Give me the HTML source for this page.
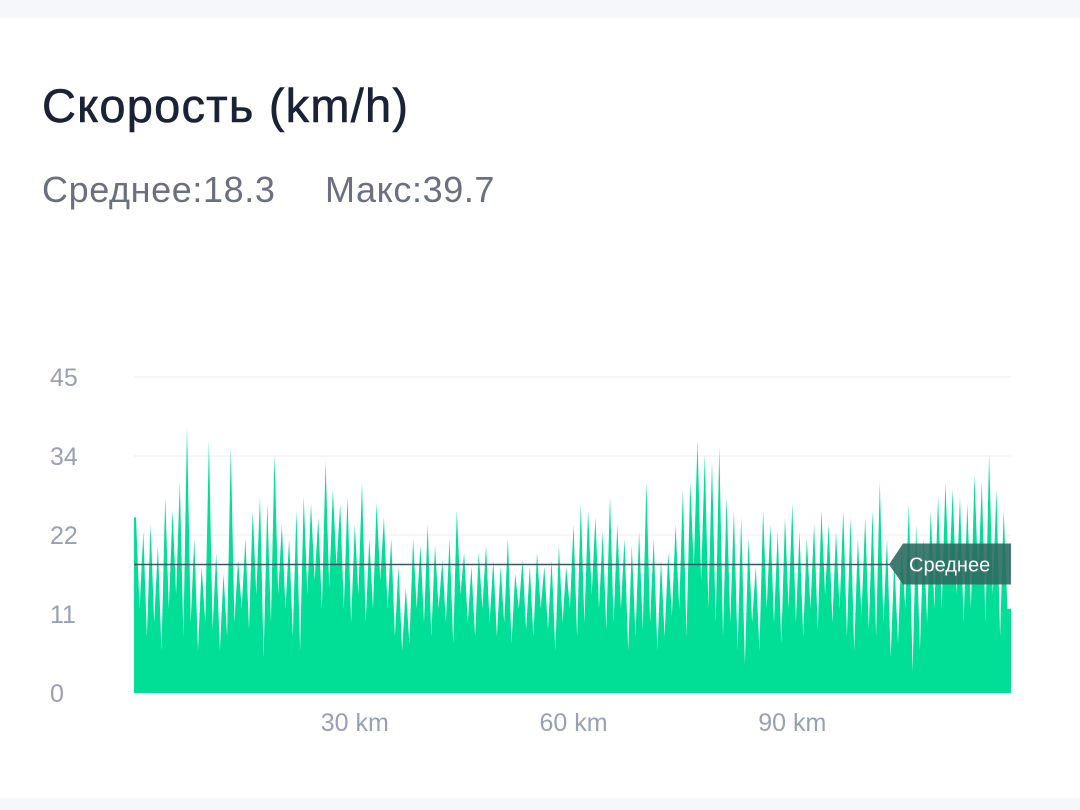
<!DOCTYPE html>
<html><head><meta charset="utf-8">
<style>
html,body{margin:0;padding:0;background:#f6f7fb;}
#card{position:absolute;left:0;top:18px;width:1080px;height:780px;background:#fff;}
.t{position:absolute;font-family:"Liberation Sans","Noto Sans CJK SC",sans-serif;white-space:nowrap;}
</style></head><body>
<div id="card">
<div class="t" style="left:42px;top:60px;font-size:47px;letter-spacing:1.2px;color:#1b2236;-webkit-text-stroke:0.6px #1b2236;">Скорость (km/h)</div>
<div class="t" style="left:42px;top:151px;font-size:36px;letter-spacing:0.6px;color:#6b7080;">Среднее:18.3</div>
<div class="t" style="left:325px;top:151px;font-size:36px;letter-spacing:0.6px;color:#6b7080;">Макс:39.7</div>
</div>
<svg id="chart" width="1080" height="810" style="position:absolute;left:0;top:0"></svg>
<script>
const yTicks=[45,33.75,22.5,11.25,0];
const yTickLabels=["45","34","22","11","0"];
const xTicks=[30,60,90];
const xTickLabels=["30 km","60 km","90 km"];
const avgSpeed=18.3;
const hiSpeed=[25,23,24,21,28,26,30,38,22,18,36,20,17,35,19,22,26,28,27,34,24,22,26,28,27,25,33,29,27,28,24,30,22,27,25,22,18,15,22,21,24,21,19,22,26,20,18,20,21,19,18,22,17,19,18,20,18,19,21,18,24,27,26,25,23,28,24,22,21,23,30,22,19,20,24,29,30,36,34,33,35,28,26,25,22,18,26,24,23,25,27,23,22,24,26,24,23,26,25,22,25,26,30,22,19,21,27,24,22,26,28,30,29,28,27,31,30,34,29,26];
const loSpeed=[12,8,10,6,12,14,8,10,6,10,9,6,8,10,12,9,14,5,10,14,12,8,6,14,16,12,15,18,12,10,14,10,12,16,12,8,6,7,12,10,8,12,10,7,14,10,8,12,10,8,10,7,12,9,8,12,9,6,10,12,8,10,14,12,9,10,12,6,8,9,10,6,8,11,12,8,18,16,12,10,8,10,6,4,10,6,12,10,7,12,10,8,12,9,14,10,12,8,6,11,9,8,10,5,7,12,3,6,10,12,12,16,14,10,12,16,10,14,8,12];
const svg=document.getElementById('chart');const NS='http://www.w3.org/2000/svg';
const X0=134,X1=1011,Y0=693,Y1=377,KM=120;
const x=v=>136+(v)*(X1-136)/KM;
const y=v=>Y0-v*(Y0-Y1)/45;
function mk(t,a){const e=document.createElementNS(NS,t);for(const k in a)e.setAttribute(k,a[k]);svg.appendChild(e);return e;}
yTicks.forEach((v,i)=>{
 if(v>0){const g=mk('line',{x1:X0,x2:X1,y1:y(v),y2:y(v),stroke:'#eceef3','stroke-width':1});
 
 }
 const t=mk('text',{x:50,y:y(v)+9,'font-size':25,fill:'#98a0b3','font-family':'Liberation Sans,sans-serif'});
 t.textContent=yTickLabels[i];
 
 
});
let d='M'+X0+','+Y0+' L'+X0+','+y(hiSpeed[0]).toFixed(1);
for(let i=0;i<hiSpeed.length;i++){d+=' L'+x(i).toFixed(1)+','+y(hiSpeed[i]).toFixed(1)+' L'+x(i+0.5).toFixed(1)+','+y(loSpeed[i]).toFixed(1);}
d+=' L'+X1+','+y(loSpeed[loSpeed.length-1]).toFixed(1)+' L'+X1+','+Y0+' Z';
const area=mk('path',{d:d,fill:'#00df95'});


const al=mk('line',{x1:X0,x2:890,y1:y(avgSpeed),y2:y(avgSpeed),stroke:'#3d5560','stroke-width':1.5});


const ay=y(avgSpeed);
const badge=mk('path',{d:`M889,${ay} L903,${ay-21} L1011,${ay-21} L1011,${ay+20} L903,${ay+20} Z`,fill:'#2b6b62','fill-opacity':0.9});


const bt=mk('text',{x:909,y:ay+7,'font-size':20,fill:'#fff','font-family':'Liberation Sans,sans-serif'});
bt.textContent='Среднее';


xTicks.forEach((v,i)=>{const t=mk('text',{x:x(v),y:731,'font-size':25,fill:'#98a0b3','text-anchor':'middle','font-family':'Liberation Sans,sans-serif'});
 t.textContent=xTickLabels[i];
 
 });
</script>
</body></html>
